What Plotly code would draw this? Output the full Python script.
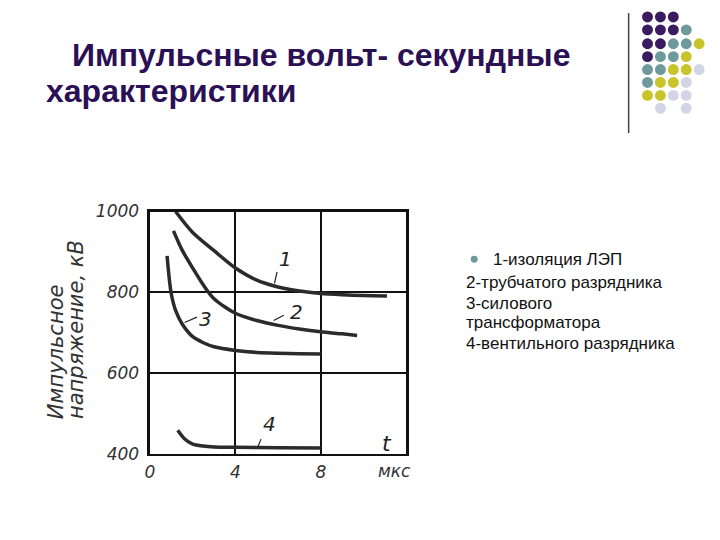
import plotly.graph_objects as go

# ---- data ----
t1 = [1.2, 2, 3, 4, 5, 6, 7, 8, 9, 10, 11.1]
u1 = [1000, 948, 903, 860, 830, 813, 803, 797, 794, 792, 791]

t2 = [1.1, 1.5, 2, 2.5, 3, 4, 5, 6, 7, 8, 9, 9.7]
u2 = [952, 905, 860, 818, 784, 748, 730, 718, 709, 702, 697, 693]

t3 = [0.8, 0.9, 1.0, 1.2, 1.5, 2, 2.5, 3, 4, 5, 6, 7, 8]
u3 = [890, 835, 795, 755, 722, 690, 675, 665, 656, 651, 649, 648, 647]

t4 = [1.3, 1.6, 2.0, 2.5, 3, 4, 6, 8]
u4 = [458, 438, 424, 419, 417, 416, 415, 414]

x_ticks = [0, 4, 8]
y_ticks = [400, 600, 800, 1000]
y_tick_labels = ["400", "600", "800", "1000"]

title_line1 = "Импульсные вольт- секундные"
title_line2 = "характеристики"
axis_title_1 = "Импульсное"
axis_title_2 = "напряжение, кВ"
legend_lines = ["1-изоляция ЛЭП", "2-трубчатого разрядника", "3-силового",
                "трансформатора", "4-вентильного разрядника"]
curve_labels = ["1", "2", "3", "4"]

# decorative dot grid (rows of colours, None = empty)
P, T, Y, L = "#3a1a60", "#6f9a9c", "#c9c42a", "#d3d4e6"
dot_rows = [
    [P, P, P],
    [P, P, P, T],
    [P, P, T, T, Y],
    [P, T, T, Y],
    [T, T, Y, Y, L],
    [T, Y, Y, L],
    [Y, Y, L, L],
    [None, L, None, L],
]

W, H = 720, 540
def px(x):
    return x / W
def py(y):
    return 1 - ((y - 9) / 0.97) / H

fig = go.Figure()
for t, u in [(t1, u1), (t2, u2), (t3, u3), (t4, u4)]:
    fig.add_trace(go.Scatter(x=t, y=u, mode="lines",
                             line=dict(color="#2b2b2b", width=3.5, shape="spline", smoothing=0.8),
                             showlegend=False, hoverinfo="skip"))

tickfont = dict(family="DejaVu Sans", size=17, color="#333333", style="italic")
fig.update_xaxes(range=[0, 12], domain=[px(146), px(404)], tickvals=x_ticks, ticktext=[str(v) for v in x_ticks],
                 showgrid=True, gridcolor="#111111", gridwidth=2, showline=True, linecolor="#111111", linewidth=2.5,
                 mirror=True, zeroline=False, ticks="", tickfont=tickfont, ticklabelstandoff=1)
fig.update_yaxes(range=[400, 1000], domain=[py(456), py(212)], tickvals=y_ticks, ticktext=y_tick_labels,
                 showgrid=True, gridcolor="#111111", gridwidth=2, showline=True, linecolor="#111111", linewidth=2.5,
                 mirror=True, zeroline=False, ticks="", tickfont=tickfont, ticklabelstandoff=5)

ann = []
italic = dict(family="DejaVu Sans", size=20, color="#222222", style="italic")
# curve labels
label_pos = [(6.34, 883), (6.85, 750), (2.59, 735), (5.6, 474)]
for lab, (x, y) in zip(curve_labels, label_pos):
    ann.append(dict(x=x, y=y, xref="x", yref="y", text=lab, showarrow=False, font=italic))
# leader lines
leaders = [((5.83, 822), (5.97, 854)), ((5.79, 730), (6.34, 745)), ((1.62, 725), (2.27, 740)), ((5.05, 417), (5.23, 440))]
for (x0, y0), (x1, y1) in leaders:
    ann.append(dict(x=x0, y=y0, ax=x1, ay=y1, xref="x", yref="y", axref="x", ayref="y", text="",
                    showarrow=True, arrowhead=0, arrowwidth=1.2, arrowcolor="#222222"))
ann.append(dict(x=11.1, y=425, xref="x", yref="y", text="t", showarrow=False, font=dict(italic, size=22)))
ann.append(dict(x=px(392), y=py(473), xref="paper", yref="paper", text="мкс", showarrow=False,
                xanchor="center", yanchor="middle", font=dict(italic, size=17, color="#333333")))
# axis title (two rotated lines, aligned at the bottom)
afont = dict(family="DejaVu Sans", size=21, color="#333333", style="italic")
ann.append(dict(x=px(52), y=py(423), xref="paper", yref="paper", text=axis_title_1, textangle=-90,
                xanchor="center", yanchor="bottom", showarrow=False, font=afont))
ann.append(dict(x=px(72), y=py(423), xref="paper", yref="paper", text=axis_title_2, textangle=-90,
                xanchor="center", yanchor="bottom", showarrow=False, font=afont))
# title
tfont = dict(family="Liberation Sans, Arial", size=32, color="#2b1055", weight="bold")
ann.append(dict(x=px(65), y=py(54), xref="paper", yref="paper", text=title_line1, showarrow=False,
                xanchor="left", yanchor="middle", font=tfont))
ann.append(dict(x=px(39), y=py(91), xref="paper", yref="paper", text=title_line2, showarrow=False,
                xanchor="left", yanchor="middle", font=tfont))
# legend text
lfont = dict(family="Liberation Sans, Arial", size=17, color="#111111")
leg_x = [489, 462, 462, 462, 462]
leg_y = [260, 283, 305, 324, 345]
for txt, x, y in zip(legend_lines, leg_x, leg_y):
    ann.append(dict(x=px(x), y=py(y), xref="paper", yref="paper", text=txt, showarrow=False,
                    xanchor="left", yanchor="middle", font=lfont))

shapes = []
# legend bullet
shapes.append(dict(type="circle", xref="paper", yref="paper", x0=px(469), x1=px(476), y0=py(263.5), y1=py(256.5),
                   fillcolor="#6f9a9c", line=dict(width=0)))
# vertical divider
shapes.append(dict(type="line", xref="paper", yref="paper", x0=px(628), x1=px(628), y0=py(12), y1=py(133),
                   line=dict(color="#444444", width=1.5)))
# dot grid
col_x = [647, 660, 673, 686, 699]
row_y = [16, 29, 43, 56, 69, 82, 95, 108]
r = 5.5
for ri, row in enumerate(dot_rows):
    for ci, c in enumerate(row):
        if c is None:
            continue
        cx, cy = col_x[ci], row_y[ri]
        shapes.append(dict(type="circle", xref="paper", yref="paper", x0=px(cx - r), x1=px(cx + r),
                           y0=py(cy + r), y1=py(cy - r), fillcolor=c, line=dict(width=0)))

fig.update_layout(width=W, height=H, margin=dict(l=0, r=0, t=0, b=0), paper_bgcolor="white",
                  plot_bgcolor="white", annotations=ann, shapes=shapes, showlegend=False)
fig.write_html("out.html", config={"displayModeBar": False, "staticPlot": True},
               post_script="document.body.style.margin='0';document.body.style.overflow='hidden';")
